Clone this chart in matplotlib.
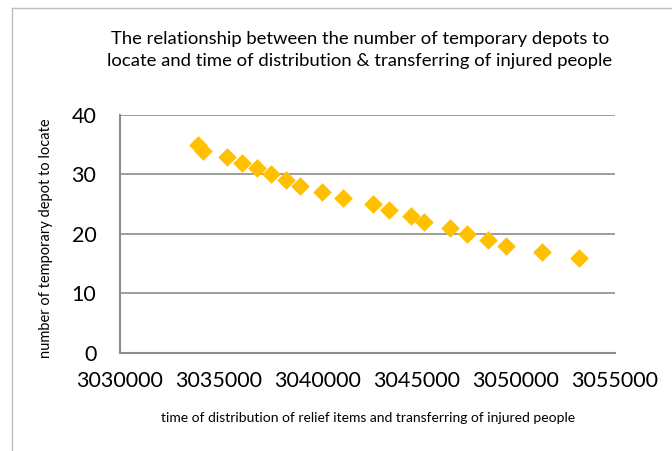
import matplotlib.pyplot as plt
from matplotlib.lines import Line2D

# data
time_dist = [3033924, 3034177, 3035389, 3036146, 3036904, 3037626, 3038369, 3039106,
             3040187, 3041263, 3042793, 3043601, 3044697, 3045354, 3046667, 3047510,
             3048571, 3049495, 3051298, 3053197]
n_depots = [35, 34, 33, 32, 31, 30, 29, 28, 27, 26, 25, 24, 23, 22, 21, 20, 19, 18, 17, 16]
x_ticks = [3030000, 3035000, 3040000, 3045000, 3050000, 3055000]
y_ticks = [0, 10, 20, 30, 40]

plt.rcParams['font.family'] = ['Lato', 'DejaVu Sans']

W, H = 672, 451
fig = plt.figure(figsize=(W / 100, H / 100), dpi=100)
ax = fig.add_axes([120 / W, 1 - 352.7 / H, (615 - 120) / W, (352.7 - 115) / H])

ax.scatter(time_dist, n_depots, marker='D', s=9.5 ** 2, color='#FFC000', linewidths=0, zorder=3)

ax.set_xlim(3030000, 3055000)
ax.set_ylim(0, 40)
ax.set_xticks(x_ticks)
ax.set_yticks(y_ticks)
ax.set_xticklabels([str(v) for v in x_ticks], fontsize=15.5)
ax.set_yticklabels([str(v) for v in y_ticks], fontsize=15.5)
ax.tick_params(length=0)
ax.tick_params(axis='x', pad=13)
ax.tick_params(axis='y', pad=17)
ax.grid(axis='y', color='#8c8c8c', linewidth=1.2)
ax.set_axisbelow(True)
for s in ['top', 'right']:
    ax.spines[s].set_visible(False)
for s in ['left', 'bottom']:
    ax.spines[s].set_color('#8c8c8c')
    ax.spines[s].set_linewidth(1.5)

fig.text(360 / W, 1 - 50 / H,
         'The relationship between the number of temporary depots to\n'
         'locate and time of distribution & transferring of injured people',
         ha='center', va='center', fontsize=13.3, linespacing=1.5)
fig.text(368 / W, 1 - 418 / H,
         'time of distribution of relief items and transferring of injured people',
         ha='center', va='center', fontsize=10)
fig.text(46 / W, 1 - 238 / H, 'number of temporary depot to locate',
         ha='center', va='center', rotation=90, fontsize=10.5)

# chart-area border
fig.add_artist(Line2D([12 / W, 12 / W], [0, 1 - 8 / H], color='#bfbfbf', linewidth=1))
fig.add_artist(Line2D([12 / W, 1], [1 - 8 / H, 1 - 8 / H], color='#bfbfbf', linewidth=1))

fig.savefig('out.png', dpi=100)
